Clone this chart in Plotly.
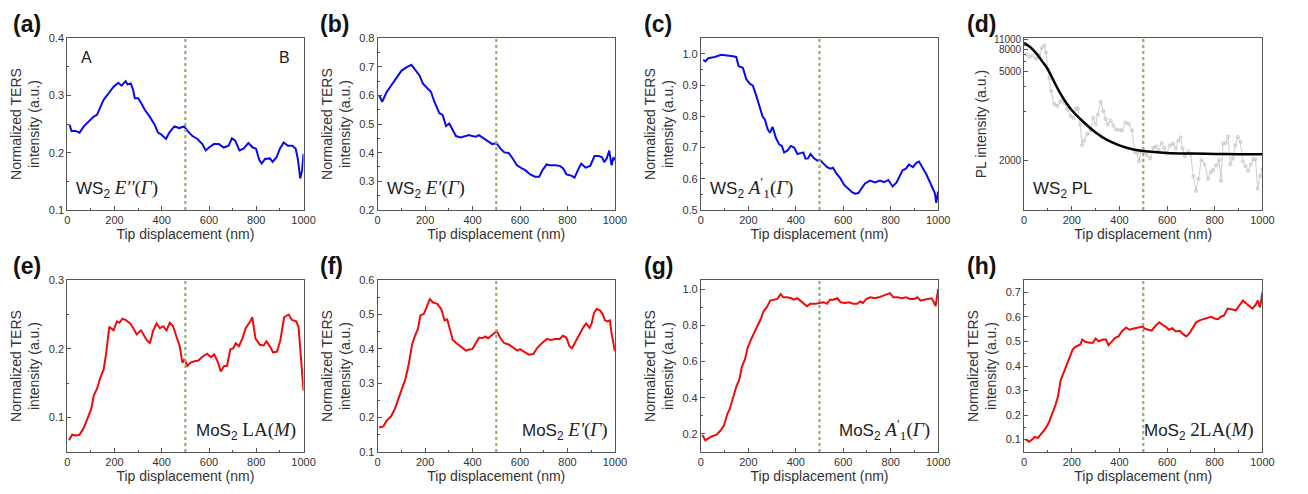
import plotly.graph_objects as go

# ---------------- data ----------------
a_x = [10, 18, 35, 52, 70, 91, 112, 126, 140, 153, 174, 195, 216, 230, 247, 255, 269, 279, 286, 300, 314, 328, 349, 370, 384, 397, 418, 432, 453, 474, 495, 509, 530, 551, 572, 586, 600, 621, 642, 662, 683, 697, 711, 729, 746, 767, 785, 799, 813, 823, 837, 858, 869, 886, 900, 916, 934, 953, 967, 976, 986, 994, 1000]
a_y = [0.249, 0.238, 0.238, 0.235, 0.246, 0.255, 0.263, 0.266, 0.278, 0.292, 0.303, 0.315, 0.322, 0.317, 0.325, 0.319, 0.321, 0.309, 0.295, 0.295, 0.286, 0.275, 0.263, 0.249, 0.235, 0.232, 0.224, 0.235, 0.246, 0.243, 0.246, 0.238, 0.229, 0.224, 0.215, 0.204, 0.209, 0.215, 0.215, 0.209, 0.212, 0.225, 0.221, 0.204, 0.207, 0.217, 0.209, 0.207, 0.187, 0.181, 0.189, 0.190, 0.184, 0.192, 0.207, 0.218, 0.212, 0.212, 0.207, 0.189, 0.155, 0.169, 0.198]

b_x = [6, 19, 38, 58, 79, 100, 121, 142, 156, 177, 191, 211, 225, 239, 260, 274, 288, 302, 316, 330, 350, 371, 385, 399, 413, 427, 441, 455, 469, 483, 501, 517, 534, 552, 570, 587, 608, 622, 643, 663, 681, 695, 712, 726, 747, 768, 782, 796, 816, 830, 844, 858, 876, 896, 914, 932, 946, 955, 965, 976, 986, 994, 1000]
b_y = [0.601, 0.578, 0.612, 0.635, 0.663, 0.686, 0.698, 0.707, 0.692, 0.669, 0.641, 0.624, 0.612, 0.578, 0.538, 0.532, 0.493, 0.502, 0.481, 0.458, 0.453, 0.458, 0.462, 0.458, 0.456, 0.461, 0.453, 0.447, 0.438, 0.430, 0.433, 0.415, 0.401, 0.399, 0.379, 0.356, 0.345, 0.339, 0.324, 0.316, 0.316, 0.339, 0.359, 0.356, 0.356, 0.354, 0.345, 0.324, 0.320, 0.313, 0.339, 0.362, 0.348, 0.354, 0.388, 0.388, 0.384, 0.367, 0.379, 0.407, 0.356, 0.384, 0.373]

c_x = [10, 19, 31, 58, 86, 114, 135, 149, 159, 177, 191, 205, 219, 233, 247, 260, 270, 281, 291, 302, 316, 330, 341, 351, 365, 379, 393, 407, 421, 432, 441, 451, 462, 476, 490, 501, 515, 532, 546, 557, 571, 588, 604, 623, 637, 650, 664, 678, 692, 713, 734, 755, 772, 790, 808, 825, 838, 850, 864, 877, 894, 908, 919, 933, 950, 964, 978, 986, 992, 1000]
c_y = [0.981, 0.976, 0.986, 0.990, 0.997, 0.995, 0.992, 0.990, 0.960, 0.955, 0.919, 0.905, 0.898, 0.867, 0.835, 0.799, 0.789, 0.759, 0.747, 0.766, 0.731, 0.710, 0.705, 0.684, 0.690, 0.705, 0.700, 0.679, 0.682, 0.684, 0.664, 0.665, 0.679, 0.666, 0.658, 0.661, 0.650, 0.637, 0.632, 0.635, 0.617, 0.601, 0.580, 0.565, 0.557, 0.552, 0.554, 0.570, 0.585, 0.594, 0.588, 0.594, 0.589, 0.596, 0.575, 0.588, 0.611, 0.627, 0.632, 0.645, 0.637, 0.651, 0.655, 0.638, 0.614, 0.591, 0.565, 0.554, 0.523, 0.559]

d_x = [10, 22, 36, 50, 64, 74, 85, 92, 99, 106, 113, 126, 138, 151, 160, 170, 182, 196, 207, 217, 226, 235, 243, 251, 265, 279, 290, 300, 310, 321, 332, 342, 351, 363, 374, 386, 400, 411, 425, 439, 453, 464, 474, 482, 490, 501, 515, 529, 542, 554, 563, 577, 587, 598, 612, 626, 637, 647, 657, 665, 675, 689, 699, 710, 721, 732, 744, 758, 772, 782, 793, 807, 818, 826, 835, 846, 856, 865, 876, 886, 897, 907, 918, 929, 940, 951, 962, 971, 980, 990, 1000]
d_y = [7100, 6700, 6900, 6400, 7000, 8400, 9000, 7400, 5250, 4500, 3780, 3240, 3170, 3320, 3370, 3270, 3055, 2860, 2800, 3080, 3080, 2650, 2230, 2310, 2440, 2520, 2810, 2650, 2900, 3320, 3010, 2780, 2650, 2740, 2620, 2530, 2520, 2510, 2690, 2660, 2510, 2130, 2110, 1990, 2130, 2150, 2080, 2030, 2190, 2210, 2140, 2270, 2190, 2100, 2230, 2260, 2180, 2310, 2370, 2180, 2060, 2130, 2090, 1810, 1660, 1780, 2010, 1950, 1780, 1850, 1880, 1940, 2010, 1760, 2260, 2270, 2390, 1950, 2030, 2230, 2380, 2290, 1990, 1930, 1870, 1950, 2020, 2020, 1680, 1810, 1890]
d_fit_x = [0, 25, 50, 75, 100, 125, 150, 175, 200, 250, 300, 350, 400, 450, 500, 600, 700, 800, 900, 1000]
d_fit_y = [9700, 8600, 7300, 6100, 5200, 4300, 3700, 3300, 3030, 2700, 2470, 2320, 2230, 2170, 2140, 2110, 2100, 2095, 2090, 2090]

e_x = [7, 21, 35, 52, 70, 88, 102, 112, 126, 140, 154, 164, 178, 196, 210, 220, 234, 248, 266, 280, 294, 312, 326, 336, 350, 364, 378, 392, 406, 420, 434, 448, 462, 476, 487, 497, 508, 522, 538, 555, 573, 592, 608, 622, 636, 650, 664, 676, 690, 703, 713, 727, 741, 755, 773, 783, 797, 815, 832, 843, 857, 871, 888, 902, 918, 937, 951, 969, 979, 986, 1000]
e_y = [0.067, 0.075, 0.074, 0.075, 0.085, 0.101, 0.113, 0.132, 0.142, 0.158, 0.170, 0.192, 0.232, 0.227, 0.240, 0.238, 0.244, 0.242, 0.237, 0.230, 0.221, 0.227, 0.219, 0.213, 0.208, 0.227, 0.237, 0.230, 0.233, 0.227, 0.238, 0.233, 0.218, 0.204, 0.180, 0.185, 0.175, 0.180, 0.182, 0.183, 0.189, 0.193, 0.188, 0.192, 0.182, 0.167, 0.175, 0.175, 0.199, 0.201, 0.208, 0.204, 0.215, 0.230, 0.239, 0.246, 0.215, 0.206, 0.205, 0.211, 0.204, 0.195, 0.196, 0.213, 0.246, 0.250, 0.242, 0.240, 0.232, 0.201, 0.139]

f_x = [6, 24, 38, 56, 73, 86, 100, 117, 131, 145, 156, 170, 180, 195, 209, 220, 233, 251, 268, 282, 293, 303, 317, 331, 345, 358, 372, 386, 400, 414, 428, 442, 453, 466, 477, 488, 502, 516, 533, 554, 575, 589, 600, 616, 637, 656, 672, 693, 714, 728, 749, 767, 781, 795, 809, 819, 833, 851, 868, 879, 893, 902, 912, 923, 937, 948, 958, 968, 979, 986, 993, 1000]
f_y = [0.171, 0.174, 0.191, 0.203, 0.226, 0.255, 0.279, 0.312, 0.355, 0.412, 0.436, 0.459, 0.497, 0.502, 0.526, 0.545, 0.535, 0.531, 0.516, 0.483, 0.486, 0.459, 0.426, 0.417, 0.410, 0.402, 0.395, 0.398, 0.400, 0.417, 0.433, 0.431, 0.436, 0.431, 0.438, 0.445, 0.452, 0.433, 0.417, 0.412, 0.402, 0.395, 0.399, 0.391, 0.383, 0.385, 0.402, 0.417, 0.429, 0.426, 0.429, 0.429, 0.438, 0.433, 0.407, 0.402, 0.419, 0.445, 0.464, 0.474, 0.461, 0.474, 0.505, 0.516, 0.512, 0.502, 0.483, 0.480, 0.483, 0.445, 0.417, 0.393]

g_x = [6, 19, 33, 47, 65, 83, 97, 111, 121, 135, 149, 163, 172, 186, 197, 211, 225, 239, 253, 264, 278, 292, 308, 322, 336, 347, 364, 378, 392, 406, 419, 433, 447, 461, 482, 500, 517, 531, 544, 558, 575, 589, 607, 625, 642, 658, 672, 683, 697, 714, 732, 750, 767, 783, 797, 811, 829, 847, 864, 881, 899, 913, 926, 940, 958, 972, 982, 989, 996, 1000]
g_y = [0.194, 0.164, 0.176, 0.187, 0.194, 0.218, 0.245, 0.308, 0.335, 0.397, 0.460, 0.505, 0.568, 0.613, 0.676, 0.721, 0.757, 0.793, 0.838, 0.878, 0.901, 0.937, 0.942, 0.946, 0.973, 0.955, 0.955, 0.951, 0.942, 0.951, 0.937, 0.919, 0.906, 0.919, 0.919, 0.924, 0.928, 0.919, 0.942, 0.942, 0.950, 0.928, 0.924, 0.928, 0.919, 0.919, 0.932, 0.924, 0.946, 0.955, 0.950, 0.955, 0.964, 0.968, 0.978, 0.955, 0.955, 0.950, 0.955, 0.946, 0.946, 0.955, 0.937, 0.942, 0.946, 0.950, 0.928, 0.906, 0.964, 1.000]

h_x = [7, 21, 35, 44, 58, 72, 90, 104, 118, 132, 142, 153, 167, 181, 194, 204, 215, 226, 236, 244, 257, 275, 289, 300, 313, 331, 344, 354, 368, 382, 396, 410, 428, 442, 456, 469, 483, 497, 507, 521, 535, 549, 567, 581, 594, 608, 622, 636, 653, 667, 681, 694, 708, 722, 739, 753, 771, 785, 799, 813, 826, 840, 854, 872, 889, 906, 919, 933, 947, 958, 972, 981, 989, 994, 1000]
h_y = [0.101, 0.091, 0.101, 0.111, 0.107, 0.124, 0.146, 0.170, 0.203, 0.243, 0.276, 0.342, 0.376, 0.409, 0.442, 0.468, 0.478, 0.485, 0.488, 0.508, 0.499, 0.495, 0.495, 0.512, 0.501, 0.508, 0.508, 0.485, 0.501, 0.515, 0.521, 0.541, 0.557, 0.548, 0.552, 0.554, 0.557, 0.561, 0.552, 0.548, 0.544, 0.561, 0.578, 0.568, 0.561, 0.548, 0.554, 0.541, 0.544, 0.530, 0.521, 0.534, 0.554, 0.578, 0.587, 0.591, 0.594, 0.601, 0.594, 0.591, 0.601, 0.607, 0.634, 0.630, 0.627, 0.650, 0.667, 0.654, 0.644, 0.634, 0.650, 0.667, 0.640, 0.660, 0.700]

boundary_x = 500
d_ticks = [2000, 5000, 8000, 11000]
d_minor = [3000, 4000, 6000, 7000, 9000, 10000]

# ---------------- layout helpers ----------------
W, H = 1308, 494
cols = [(65, 304), (379, 619), (706, 946), (1033, 1274)]
rows = [(33, 209), (281, 457)]

SANS = "Liberation Sans, Arial, sans-serif"
SERIF = "Liberation Serif, Times New Roman, serif"
AX_COLOR = "#555555"
TXT = "#333333"

fig = go.Figure()
layout = dict(width=W, height=H, margin=dict(l=0, r=0, t=0, b=0),
              paper_bgcolor="white", plot_bgcolor="white", showlegend=False,
              font=dict(family=SANS, color=TXT))

panels = [
    ("a", a_x, a_y, "#0a0af0", [0.1, 0.4], 0.1, 0.05),
    ("b", b_x, b_y, "#0a0af0", [0.2, 0.8], 0.1, 0.05),
    ("c", c_x, c_y, "#0a0af0", [0.5, 1.05], 0.1, 0.05),
    ("d", None, None, None, None, None, None),
    ("e", e_x, e_y, "#f00a0a", [0.05, 0.3], 0.1, 0.05),
    ("f", f_x, f_y, "#f00a0a", [0.1, 0.6], 0.1, 0.05),
    ("g", g_x, g_y, "#f00a0a", [0.1, 1.05], 0.2, 0.1),
    ("h", h_x, h_y, "#f00a0a", [0.05, 0.75], 0.1, 0.05),
]

annotations = []
shapes = []
for i, (lab, xs, ys, col, yr, dt, mdt) in enumerate(panels):
    r, c = divmod(i, 4)
    x0, x1 = cols[c]
    y0, y1 = rows[r]
    n = i + 1
    xa = "xaxis" if n == 1 else f"xaxis{n}"
    ya = "yaxis" if n == 1 else f"yaxis{n}"
    xref = "x" if n == 1 else f"x{n}"
    yref = "y" if n == 1 else f"y{n}"
    layout[xa] = dict(domain=[x0 / W, x1 / W], anchor=yref, range=[0, 1000],
                      tickvals=[0, 200, 400, 600, 800, 1000], ticks="inside", ticklen=4,
                      tickcolor=AX_COLOR, showline=True, linecolor=AX_COLOR, linewidth=1,
                      mirror=True, showgrid=False, zeroline=False,
                      tickfont=dict(size=11, color=TXT),
                      minor=dict(ticks="inside", ticklen=2, dtick=100, tickcolor=AX_COLOR),
                      title=dict(text="Tip displacement (nm)", font=dict(size=14, color=TXT), standoff=2))
    ydom = [1 - y1 / H, 1 - y0 / H]
    if lab == "d":
        fig.add_trace(go.Scatter(x=d_x, y=[1.0 / v for v in d_y], mode="lines+markers",
                                 line=dict(color="#cfcfcf", width=1),
                                 marker=dict(symbol="circle-open", size=3, color="#c4c4c4"),
                                 xaxis=xref, yaxis=yref))
        fig.add_trace(go.Scatter(x=d_fit_x, y=[1.0 / v for v in d_fit_y], mode="lines",
                                 line=dict(color="black", width=2.5, shape="spline"),
                                 xaxis=xref, yaxis=yref))
        layout[ya] = dict(domain=ydom, anchor=xref, range=[1 / 1500, 1 / 11560],
                          tickvals=[1.0 / t for t in d_ticks], ticktext=[str(t) for t in d_ticks],
                          ticks="inside", ticklen=4, tickcolor=AX_COLOR, showline=True,
                          linecolor=AX_COLOR, linewidth=1, mirror=True, showgrid=False,
                          zeroline=False, tickfont=dict(size=10, color=TXT),
                          minor=dict(ticks="inside", ticklen=2, tickcolor=AX_COLOR,
                                     tickvals=[1.0 / t for t in d_minor]),
                          title=dict(text="PL intensity (a.u.)", font=dict(size=14, color=TXT), standoff=4))
    else:
        fig.add_trace(go.Scatter(x=xs, y=ys, mode="lines", line=dict(color=col, width=2),
                                 xaxis=xref, yaxis=yref))
        layout[ya] = dict(domain=ydom, anchor=xref, range=yr, dtick=dt, tick0=0,
                          tickformat=".1f", ticks="inside", ticklen=4, tickcolor=AX_COLOR,
                          showline=True, linecolor=AX_COLOR, linewidth=1, mirror=True,
                          showgrid=False, zeroline=False, tickfont=dict(size=11, color=TXT),
                          minor=dict(ticks="inside", ticklen=2, dtick=mdt, tickcolor=AX_COLOR),
                          title=dict(text="Normalized TERS<br>intensity (a.u.)",
                                     font=dict(size=14, color=TXT), standoff=5))
    # boundary dotted line
    shapes.append(dict(type="line", xref=xref, yref=f"{yref} domain", x0=boundary_x, x1=boundary_x,
                       y0=0, y1=1, line=dict(color="#8db36a", width=2.2, dash="dot")))
    # panel label
    annotations.append(dict(text=f"<b>({lab})</b>", xref="paper", yref="paper",
                            x=(x0 - 57 if c == 0 else x0 - 60) / W, y=1 - (y0 - 15) / H,
                            xanchor="left", yanchor="middle", showarrow=False,
                            font=dict(size=23, color="#111111", family=SANS)))

def mixed(sans_part, serif_part):
    return (f"<span style='font-family:{SANS}'>{sans_part}</span> "
            f"<span style='font-family:{SERIF};font-size:19px'>{serif_part}</span>")

labels = [
    ("x", "y", mixed("WS<sub>2</sub>", "<i>E''</i>(<i>Γ</i>)"), "left"),
    ("x2", "y2", mixed("WS<sub>2</sub>", "<i>E'</i>(<i>Γ</i>)"), "left"),
    ("x3", "y3", mixed("WS<sub>2</sub>", "<i>A</i><sup>′</sup><sub>1</sub>(<i>Γ</i>)"), "left"),
    ("x4", "y4", "WS<sub>2</sub> PL", "left"),
    ("x5", "y5", mixed("MoS<sub>2</sub>", "LA(<i>M</i>)"), "right"),
    ("x6", "y6", mixed("MoS<sub>2</sub>", "<i>E'</i>(<i>Γ</i>)"), "right"),
    ("x7", "y7", mixed("MoS<sub>2</sub>", "<i>A</i><sup>′</sup><sub>1</sub>(<i>Γ</i>)"), "right"),
    ("x8", "y8", mixed("MoS<sub>2</sub>", "2LA(<i>M</i>)"), "right"),
]
for xr, yr_, txt, side in labels:
    annotations.append(dict(text=txt, xref=f"{xr} domain", yref=f"{yr_} domain",
                            x=0.03 if side == "left" else 0.975, y=0.04,
                            xanchor=side, yanchor="bottom", showarrow=False,
                            font=dict(size=17, color="#222222", family=SANS)))

annotations.append(dict(text="A", xref="x domain", yref="y domain", x=0.05, y=0.95,
                        xanchor="left", yanchor="top", showarrow=False,
                        font=dict(size=16, color="#222222")))
annotations.append(dict(text="B", xref="x domain", yref="y domain", x=0.95, y=0.95,
                        xanchor="right", yanchor="top", showarrow=False,
                        font=dict(size=16, color="#222222")))

layout["annotations"] = annotations
layout["shapes"] = shapes
fig.update_layout(**layout)
fig.write_html("out.html", config={"displayModeBar": False},
               post_script="document.body.style.margin='0';document.body.style.overflow='hidden';")
